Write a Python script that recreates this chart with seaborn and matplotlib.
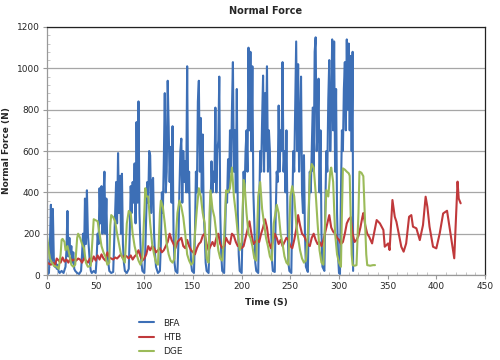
import numpy as np
import pandas as pd
import seaborn as sns
import matplotlib.pyplot as plt
from matplotlib.ticker import MultipleLocator

# BFA (time s, force N)
bfa_t = [0, 1, 2, 3, 4, 5, 6, 7, 8, 9, 10, 11, 12, 13, 15, 17, 19,
         20, 21, 22, 23, 24, 25, 26, 27, 28, 29, 31, 33, 35,
         36, 37, 38, 39, 40, 41, 42, 43, 44, 45, 46, 48, 50,
         51, 52, 53, 54, 55, 56, 57, 58, 59, 60, 61, 62, 63, 64, 66, 68,
         69, 70, 71, 72, 73, 74, 75, 76, 77, 78, 79, 80, 82, 84,
         85, 86, 87, 88, 89, 90, 91, 92, 93, 94, 95, 96, 97, 98, 100,
         101, 102, 103, 104, 105, 106, 107, 108, 109, 110, 111, 112, 114, 116,
         117, 118, 119, 120, 121, 122, 123, 124, 125, 126, 127, 128, 129, 130, 131, 132, 134,
         135, 136, 137, 138, 139, 140, 141, 142, 143, 144, 145, 146, 147, 148, 149, 151,
         152, 153, 154, 155, 156, 157, 158, 159, 160, 161, 162, 163, 164, 166,
         167, 168, 169, 170, 171, 172, 173, 174, 175, 176, 177, 178, 179, 180, 182,
         183, 184, 185, 186, 187, 188, 189, 190, 191, 192, 193, 194, 195, 196, 197, 198, 200,
         201, 202, 203, 204, 205, 206, 207, 208, 209, 210, 211, 212, 213, 214, 215, 217,
         218, 219, 220, 221, 222, 223, 224, 225, 226, 227, 228, 229, 230, 231, 232, 234,
         235, 236, 237, 238, 239, 240, 241, 242, 243, 244, 245, 246, 247, 248, 249, 251,
         252, 253, 254, 255, 256, 257, 258, 259, 260, 261, 262, 263, 264, 265, 266, 268,
         269, 270, 271, 272, 273, 274, 275, 276, 277, 278, 279, 280, 281, 282, 283, 285,
         286, 287, 288, 289, 290, 291, 292, 293, 294, 295, 296, 297, 298, 299, 300, 301,
         302, 303, 304, 305, 306, 307, 308, 309, 310, 311, 312, 313, 314, 314.5]
bfa_v = [10, 5, 10, 150, 340, 60, 320, 80, 40, 60, 30, 50, 15, 10, 20, 10, 40,
         120, 310, 90, 180, 100, 140, 60, 110, 30, 20, 10, 5, 20,
         100, 200, 80, 370, 150, 410, 200, 130, 60, 20, 10, 20, 10,
         80, 200, 150, 420, 250, 430, 200, 380, 500, 200, 370, 120, 60, 20, 10, 15,
         150, 300, 450, 250, 590, 300, 480, 200, 490, 150, 60, 20, 10, 30,
         200, 430, 300, 450, 350, 540, 250, 740, 350, 840, 300, 150, 60, 20, 10,
         120, 300, 450, 350, 600, 580, 300, 450, 470, 200, 100, 40, 10, 20,
         150, 400, 300, 550, 880, 400, 500, 940, 720, 450, 620, 350, 720, 200, 60, 20, 10,
         150, 400, 600, 660, 350, 600, 450, 550, 400, 1010, 400, 500, 200, 60, 20, 10,
         200, 500, 400, 840, 940, 500, 760, 400, 680, 300, 200, 60, 20, 10,
         150, 300, 550, 400, 500, 450, 810, 400, 600, 650, 960, 300, 100, 20, 10,
         200, 400, 350, 560, 400, 700, 500, 800, 1030, 500, 700, 400, 900, 300, 100, 20, 10,
         250, 500, 400, 600, 700, 500, 1100, 700, 1080, 600, 1010, 400, 250, 60, 20, 10,
         300, 600, 500, 750, 965, 500, 880, 600, 1010, 500, 700, 600, 300, 80, 20, 15,
         300, 500, 450, 820, 500, 700, 600, 1030, 500, 600, 400, 700, 300, 60, 20, 10,
         300, 600, 500, 800, 1130, 600, 1020, 500, 700, 960, 400, 300, 580, 200, 40, 15,
         300, 500, 400, 600, 810, 500, 1080, 1150, 600, 700, 950, 400, 700, 200, 40, 20,
         350, 600, 500, 850, 1040, 600, 800, 1140, 700, 1130, 500, 900, 300, 100, 10, 5,
         400, 700, 600, 900, 1030, 700, 1140, 800, 1120, 700, 1060, 600, 1080, 20]

# HTB
htb_t = [0, 2, 4, 6, 8, 10, 12, 14, 16, 18, 20, 22, 24, 26, 28, 30, 32, 34, 36, 38,
         40, 42, 44, 46, 48, 50, 52, 54, 56, 58, 60, 62, 64, 66, 68, 70, 72, 74, 76, 78,
         80, 82, 84, 86, 88, 90, 92, 94, 96, 98, 100, 102, 104, 106, 108, 110, 112, 114,
         116, 118, 120, 122, 124, 126, 128, 130, 132, 134, 136, 138, 140, 142, 144, 146,
         148, 150, 152, 154, 156, 158, 160, 162, 164, 166, 168, 170, 172, 174, 176, 178,
         180, 182, 184, 186, 188, 190, 192, 194, 196, 198, 200, 202, 204, 206, 208, 210,
         212, 214, 216, 218, 220, 222, 224, 226, 228, 230, 232, 234, 236, 238, 240, 242,
         244, 246, 248, 250, 252, 254, 256, 258, 260, 262, 264, 266, 268, 270, 272, 274,
         276, 278, 280, 282, 284, 286, 288, 290, 292, 294, 296, 298, 300, 302, 304, 306,
         308, 310, 312, 314, 316, 318, 320, 322, 324, 325, 327, 329, 331, 334, 335, 338.7,
         342, 345.6, 347, 350.5, 352, 354.9, 357.3, 359, 362, 364, 366.4, 369, 372, 374.3,
         376, 379.5, 383, 386.3, 389, 390.8, 393, 396.6, 400, 403.5, 407, 411, 414, 418.4,
         421.8, 423, 425]
htb_v = [60, 55, 50, 60, 45, 80, 70, 60, 85, 65, 75, 60, 80, 70, 75, 70, 80, 75, 60, 80,
         70, 60, 80, 65, 90, 70, 95, 75, 100, 80, 70, 110, 85, 80, 75, 85, 80, 90, 100, 80,
         95, 90, 80, 95, 75, 90, 100, 120, 90, 70, 80, 100, 140, 120, 140, 130, 110, 120,
         130, 110, 120, 140, 160, 200, 170, 150, 130, 160, 170, 180, 140, 130, 170, 140,
         120, 110, 100, 130, 150, 160, 190, 200, 150, 120, 140, 160, 140, 180, 200, 150,
         130, 140, 180, 160, 150, 200, 190, 160, 140, 150, 130, 140, 180, 220, 260, 200,
         150, 160, 170, 160, 200, 230, 270, 230, 160, 130, 160, 200, 180, 150, 170, 140,
         160, 180, 170, 140, 130, 170, 220, 290, 240, 200, 190, 170, 150, 140, 180, 200,
         170, 150, 160, 140, 170, 210, 250, 290, 230, 210, 200, 180, 170, 150, 160, 200,
         250, 270, 280, 200, 160, 170, 190, 230, 280, 300, 240, 200, 185, 153, 178, 266,
         250, 218, 137, 153, 121, 363, 282, 258, 185, 137, 113, 153, 282, 290,
         234, 226, 169, 242, 379, 330, 234, 137, 129, 202, 298, 311, 218, 81,
         452, 370, 347]

# DGE
dge_t = [0, 1, 2, 3, 5, 7, 10, 12, 14, 15, 16, 18, 19, 21, 23, 25, 27, 29, 31, 32, 34,
         36, 38, 40, 42, 45, 47, 48, 50, 52, 54, 56, 58, 60, 62, 64, 65, 66, 68, 70, 72,
         74, 76, 78, 80, 82, 84, 86, 88, 90, 92, 94, 96, 98, 100, 101, 102, 104, 106, 108,
         110, 112, 114, 116, 117, 119, 121, 123, 125, 127, 129, 131, 134, 136, 138, 140,
         142, 144, 146, 148, 150, 152, 154, 156, 158, 160, 162, 164, 166, 167, 168, 170,
         172, 174, 176, 178, 180, 182, 184, 186, 188, 190, 192, 194, 196, 198, 200, 202,
         203, 205, 207, 209, 211, 213, 215, 217, 219, 221, 223, 225, 227, 229, 231, 233,
         236, 238, 240, 242, 244, 246, 248, 250, 252, 254, 256, 258, 260, 262, 264, 266,
         268, 270, 272, 274, 276, 278, 280, 282, 284, 286, 287, 289, 291, 292, 294, 296,
         298, 300, 302, 303, 304, 306, 308, 310, 311, 313, 314, 316, 318, 320, 321, 323,
         325, 326, 328, 329, 332, 335, 337]
dge_v = [190, 150, 110, 80, 60, 45, 40, 30, 100, 170, 175, 160, 120, 140, 100, 50, 40, 50, 180, 200, 180,
         150, 130, 60, 40, 45, 200, 270, 265, 260, 200, 140, 110, 90, 50, 60, 240, 290, 280, 260, 200,
         150, 100, 80, 60, 250, 310, 300, 200, 140, 100, 70, 50, 80, 300, 420, 380, 380, 250, 150,
         100, 60, 50, 300, 360, 330, 250, 150, 100, 70, 60, 80, 300, 360, 330, 280,
         200, 100, 70, 50, 60, 200, 320, 420, 380, 300, 250, 80, 60, 300, 410, 320,
         280, 200, 120, 80, 70, 180, 410, 400, 420, 520, 380, 300, 200, 120, 160, 460,
         440, 300, 200, 180, 140, 80, 70, 380, 450, 320, 250, 180, 140, 90, 70, 250,
         340, 300, 200, 150, 90, 60, 50, 380, 430, 380, 250, 180, 120, 80, 60, 70,
         200, 480, 537, 520, 400, 250, 120, 60, 50, 300, 411, 380, 500, 520, 450, 200,
         100, 60, 40, 300, 516, 510, 500, 492, 480, 100, 48, 45, 48, 300, 500, 495,
         478, 350, 100, 48, 45, 48, 48]

series_names = ["BFA", "HTB", "DGE"]
colors = ["#3D6FB6", "#C0393B", "#9BBB59"]

sns.set_style("white")
plt.rcParams["font.family"] = ["DejaVu Sans"]

fig = plt.figure(figsize=(5, 3.6), dpi=100)
ax = fig.add_axes([0.094, 0.236, 0.876, 0.689])

for name, t, v, c in zip(series_names, [bfa_t, htb_t, dge_t], [bfa_v, htb_v, dge_v], colors):
    df = pd.DataFrame({"t": t, "v": v})
    sns.lineplot(data=df, x="t", y="v", ax=ax, color=c, lw=1.5,
                 estimator=None, sort=False, label=name)

ax.set_xlim(0, 450)
ax.set_ylim(0, 1200)
ax.xaxis.set_major_locator(MultipleLocator(50))
ax.xaxis.set_minor_locator(MultipleLocator(10))
ax.yaxis.set_major_locator(MultipleLocator(200))
ax.yaxis.set_minor_locator(MultipleLocator(40))
ax.yaxis.grid(True, color="#A6A6A6", lw=0.9)
ax.set_axisbelow(True)
ax.tick_params(axis="both", which="major", labelsize=6.5, length=3, color="#999999",
               direction="out", pad=2)
ax.tick_params(axis="both", which="minor", length=2, color="#bbbbbb", direction="in")
ax.tick_params(axis="y", which="both", left=True)
ax.tick_params(axis="x", which="both", bottom=True)

for s in ["top", "right"]:
    ax.spines[s].set_color("#222222")
    ax.spines[s].set_linewidth(0.9)
for s in ["left", "bottom"]:
    ax.spines[s].set_color("#999999")
    ax.spines[s].set_linewidth(0.9)

ax.set_title("Normal Force", fontsize=7, fontweight="bold", pad=9)
ax.set_xlabel("Time (S)", fontsize=6.5, fontweight="bold", labelpad=5)
ax.set_ylabel("Normal Force (N)", fontsize=6.5, fontweight="bold", labelpad=4)

ax.get_legend().remove()
handles, labels = ax.get_legend_handles_labels()
fig.legend(handles, labels, loc="upper left", bbox_to_anchor=(0.27, 0.125),
           frameon=False, fontsize=6.5, handlelength=1.7, labelspacing=0.6,
           handletextpad=1.0, borderaxespad=0)

fig.savefig("out.png", dpi=100)
